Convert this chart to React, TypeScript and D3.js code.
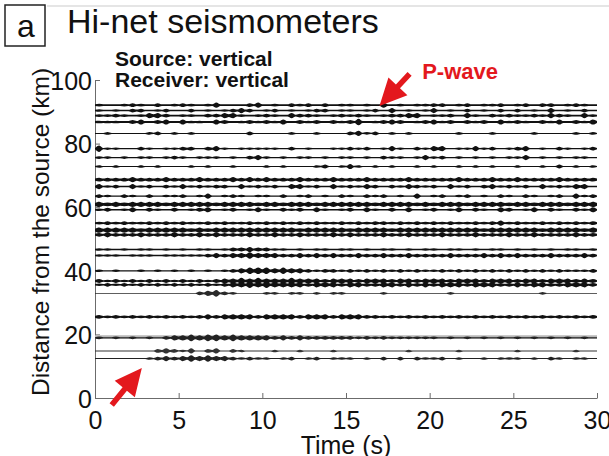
import React, { useEffect, useRef } from "react";
import * as d3 from "d3";

const FONT = "'Liberation Sans', Arial, Helvetica, sans-serif";
const RED = "#e3181d";

// axis ticks
const timeTicks = [0, 5, 10, 15, 20, 25, 30];
const distanceTicks = [0, 20, 40, 60, 80, 100];

// one entry per seismometer trace (distance from source, km)
const traceDistance = [
  92.1, 90.4, 88.8, 86.8, 83.2, 78.4, 75.6, 72.8, 68.7, 66.5, 63.5, 60.9, 59.2, 55.0,
  52.8, 51.3, 46.7, 44.8, 40.0, 36.8, 35.6, 32.9, 25.5, 19.2, 18.9, 14.8, 12.4,
];
// baseline thickness of each trace
const traceWeight = [
  1.6, 1.5, 1.8, 1.8, 1.0, 1.3, 1.4, 1.0, 2.2, 1.6, 1.3, 2.6, 1.4, 1.6,
  2.6, 2.0, 1.3, 1.6, 1.2, 1.6, 1.6, 0.8, 1.8, 3.2, 1.4, 0.9, 1.0,
];
const traceShade = [
  "#111", "#111", "#111", "#111", "#111", "#111", "#111", "#111", "#111", "#111", "#111", "#111", "#111", "#111",
  "#111", "#111", "#111", "#111", "#111", "#111", "#111", "#2a2a2a", "#111", "#b8b8b8", "#222", "#333", "#222",
];
// amplitude code (0-5) for every 0.5 s bin, 0 s .. 30 s (spaces only for reading)
const traceAmplitude = [
  "1001210201 2101300023 0102120201 1010301011 2201201120 1202201210",
  "1010220120 0201012320 1201012201 1012030101 3010201020 2010301020",
  "1121013320 1102233101 2103221012 1210122330 1120310212 1121321031",
  "1110230230 3110320121 2130212021 2401232012 3120212031 2102130213",
  "0100001201 0100000020 0001001000 2312010100 0001000100 0010000101",
  "4110021011 2202310111 1102010011 2120131021 3301131201 2301021012",
  "1101011012 1011101023 1010110101 1010211013 1201010101 1301010110",
  "1010010100 0101001000 1010001201 3101010010 1001010100 1001020101",
  "2222322232 2232223232 3222322232 2232222322 2223222322 3222232222",
  "3120312021 3121220312 1203312031 2132021321 2031202312 1203121330",
  "2102102011 2013012101 1020120102 1021201030 1201201021 0210120312",
  "3232333323 3333233332 3323332333 3332333323 2333233332 3323332333",
  "1201302102 0123012013 1021203101 2031020301 2013021032 0130210213",
  "1212112121 2112121121 2121212112 1212212121 2121121231 2112121212",
  "3333323333 3232333333 3333233333 2333323333 3333332333 3332333323",
  "2322232223 2232322232 2322322232 3222322322 2322232223 2232222322",
  "1101011010 1011012232 2110101101 1010110101 1011010110 1010101101",
  "1110111011 1112323343 3322323232 2322322322 2232223232 3222322232",
  "1010010101 0101012344 4343321221 2121212121 1212121212 1212121112",
  "2121212121 2121233434 3334333233 3233323323 3323332333 2332333232",
  "1212121212 1212123343 4333323332 3322332323 2333233322 3233223332",
  "0000000000 0023421000 1101101011 0000100000 0010000000 0001000000",
  "2121212121 2123233332 3333233323 3322121212 1212121212 1212121212",
  "0000000000 0000000000 0000000000 0000000000 0000000000 0000000000",
  "1010101023 3434434333 3232322222 2121211111 1010101010 1010101010",
  "0000000232 1302302100 0100100010 0000000100 0001000000 1000000100",
  "0000001232 3434332121 1012012011 1010202021 1201001011 1010210110",
];
const binSeconds = 0.5;
const ampPx = [0, 1.3, 1.9, 2.6, 3.3, 4.1];

// red arrows, [time s, distance km]
const arrowTail = [[18.8, 101.9], [1.0, -2.2]];
const arrowTip = [[17.0, 91.8], [2.8, 9.4]];
const pwaveLabel = [19.55, 100.3];

const x = d3.scaleLinear().domain([0, 30]).range([95, 597]);
const y = d3.scaleLinear().domain([0, 100]).range([398, 80]);

const area = d3
  .area<{ t: number; h: number; c: number }>()
  .x((p) => x(p.t))
  .y0((p) => p.c - p.h)
  .y1((p) => p.c + p.h)
  .curve(d3.curveMonotoneX);

function tracePath(i: number) {
  const amps = traceAmplitude[i].replace(/ /g, "").split("").map((c) => ampPx[+c]);
  const base = traceWeight[i] / 2;
  const c = y(traceDistance[i]);
  const pts: { t: number; h: number; c: number }[] = [];
  amps.forEach((a, k) => {
    const prev = k > 0 ? amps[k - 1] : 0;
    pts.push({ t: k * binSeconds, h: Math.max(base, 0.5 * Math.min(prev, a)), c });
    pts.push({ t: (k + 0.5) * binSeconds, h: Math.max(base, a), c });
  });
  pts.push({ t: amps.length * binSeconds, h: base, c });
  return area(pts) || "";
}

function arrowPath(k: number) {
  const [x0, y0] = [x(arrowTail[k][0]), y(arrowTail[k][1])];
  const [x1, y1] = [x(arrowTip[k][0]), y(arrowTip[k][1])];
  const len = Math.hypot(x1 - x0, y1 - y0);
  const ux = (x1 - x0) / len, uy = (y1 - y0) / len;
  const nx = -uy, ny = ux;
  const head = 27, half = 13, sw = 2.8;
  const bx = x1 - ux * head, by = y1 - uy * head;
  const p = [
    [x0 + nx * sw, y0 + ny * sw],
    [bx + nx * sw, by + ny * sw],
    [bx + nx * half, by + ny * half],
    [x1, y1],
    [bx - nx * half, by - ny * half],
    [bx - nx * sw, by - ny * sw],
    [x0 - nx * sw, y0 - ny * sw],
  ];
  return "M" + p.map((q) => q.join(",")).join("L") + "Z";
}

export default function App() {
  const xAxisRef = useRef<SVGGElement>(null);
  const yAxisRef = useRef<SVGGElement>(null);

  useEffect(() => {
    const gx = d3.select(xAxisRef.current!);
    gx.call(d3.axisBottom(x).tickValues(timeTicks).tickSizeInner(-5).tickSizeOuter(0).tickPadding(13) as any);
    const gy = d3.select(yAxisRef.current!);
    gy.call(d3.axisLeft(y).tickValues(distanceTicks).tickSizeInner(-5).tickSizeOuter(0).tickPadding(3) as any);
    [gx, gy].forEach((g) => {
      g.attr("font-size", 25).attr("font-family", FONT);
      g.select(".domain").attr("stroke", "#6b6b6b");
      g.selectAll(".tick line").attr("stroke", "#6b6b6b");
      g.selectAll("text").attr("fill", "#111");
    });
    gy.selectAll("text").attr("dy", "0.37em");
  }, []);

  return (
    <svg width={609} height={456} style={{ position: "absolute", left: 0, top: 0, background: "#fff" }} fontFamily={FONT}>
      <line x1={47} x2={609} y1={6} y2={6} stroke="#dcdcdc" strokeWidth={1.5} />
      <rect x={5} y={5} width={40} height={41} fill="none" stroke="#222" strokeWidth={1.5} />
      <text x={26} y={37} fontSize={32} textAnchor="middle" fill="#111">a</text>
      <text x={67} y={33} fontSize={34} fill="#111">Hi-net seismometers</text>
      <text x={115} y={66} fontSize={21} fontWeight="bold" fill="#111">Source: vertical</text>
      <text x={115} y={87} fontSize={21} fontWeight="bold" fill="#111">Receiver: vertical</text>

      <g ref={xAxisRef} transform={`translate(0,${y(0)})`} />
      <g ref={yAxisRef} transform={`translate(${x(0)},0)`} />

      {traceDistance.map((d, i) => (
        <path key={i} d={tracePath(i)} fill={traceShade[i]} />
      ))}

      {arrowTail.map((_, k) => (
        <path key={k} d={arrowPath(k)} fill={RED} />
      ))}
      <text x={x(pwaveLabel[0])} y={y(pwaveLabel[1])} fontSize={22} fontWeight="bold" fill={RED}>P-wave</text>

      <text x={346} y={454} fontSize={25} textAnchor="middle" fill="#111">Time (s)</text>
      <text transform="translate(49,232) rotate(-90)" fontSize={24.5} textAnchor="middle" fill="#111">
        Distance from the source (km)
      </text>
    </svg>
  );
}
